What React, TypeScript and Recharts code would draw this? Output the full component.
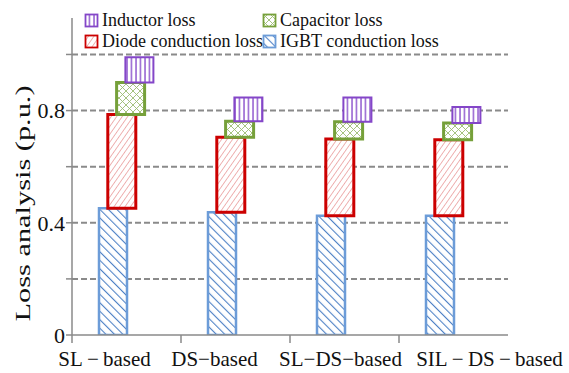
import React from "react";
import {
  Bar,
  BarChart,
  CartesianGrid,
  Legend,
  XAxis,
  YAxis,
} from "recharts";

const categories = [
  "SL\u2009\u2212\u2009based",
  "DS\u2212based",
  "SL\u2212DS\u2212based",
  "SIL\u2009\u2212\u2009DS\u2009\u2212\u2009based",
];
const igbtLoss = [0.452, 0.438, 0.425, 0.425];
const diodeLoss = [0.334, 0.267, 0.274, 0.271];
const capacitorLoss = [0.114, 0.057, 0.061, 0.06];
const inductorLoss = [0.09, 0.085, 0.087, 0.057];
const yTicks = [0, 0.2, 0.4, 0.6, 0.8, 1.0];
const yLabelled = [0, 0.4, 0.8];
const gridValues = [0.2, 0.4, 0.6, 0.8, 1.0];

const FONT = "'Liberation Serif', 'Times New Roman', Times, serif";

// waterfall: each loss sits on top of the previous ones
const data = categories.map((name, i) => {
  const a = igbtLoss[i];
  const b = a + diodeLoss[i];
  const c = b + capacitorLoss[i];
  const d = c + inductorLoss[i];
  return {
    name,
    igbt: [0, a],
    diode: [a, b],
    capacitor: [b, c],
    inductor: [c, d],
  };
});

const series = [
  { key: "igbt", name: "IGBT conduction loss", stroke: "#6c9cd8", width: 2.5, fill: "url(#pIgbt)" },
  { key: "diode", name: "Diode conduction loss", stroke: "#cc0000", width: 3, fill: "url(#pDiode)" },
  { key: "capacitor", name: "Capacitor loss", stroke: "#76a03a", width: 3, fill: "url(#pCap)" },
  { key: "inductor", name: "Inductor loss", stroke: "#8446c8", width: 2, fill: "url(#pInd)" },
];

// legend layout: two rows, two columns
const legendOrder = ["inductor", "capacitor", "diode", "igbt"];

const labelShift = [-22, -21, -4, 36];

const XTick = (props: any) => {
  const { x, y, payload, index } = props;
  const half = payload && payload.offset ? payload.offset : 54.5;
  return (
    <g>
      <line x1={x - half} x2={x - half} y1={y - 8} y2={y} stroke="#8a8a8a" strokeWidth={1.5} />
      <text
        x={x + (labelShift[index] ?? 0)}
        y={y + 23}
        textAnchor="middle"
        fontFamily={FONT}
        fontSize={21}
        fill="#111"
      >
        {payload.value}
      </text>
    </g>
  );
};

const YLabel = (props: any) => {
  const vb = props.viewBox || { x: 0, y: 18, width: 72, height: 317 };
  const cx = 23;
  const cy = vb.y + vb.height * 0.585;
  return (
    <text
      x={cx}
      y={cy}
      transform={`rotate(-90 ${cx} ${cy})`}
      textAnchor="middle"
      dominantBaseline="central"
      fontFamily={FONT}
      fontSize={20}
      fill="#111"
      textLength={236}
      lengthAdjust="spacingAndGlyphs"
    >
      Loss analysis (p.u.)
    </text>
  );
};

const LegendBox = () => (
  <div style={{ position: "relative", width: 420, height: 0, fontFamily: FONT, fontSize: 18, color: "#111" }}>
    {legendOrder.map((k, i) => {
      const s = series.find((e) => e.key === k)!;
      const col = i % 2;
      const row = Math.floor(i / 2);
      return (
        <div
          key={k}
          style={{
            position: "absolute",
            left: col * 178,
            top: row * 21,
            display: "flex",
            alignItems: "center",
            whiteSpace: "nowrap",
            lineHeight: "21px",
          }}
        >
          <svg width={16} height={16} style={{ marginRight: 2 }}>
            <rect x={1.5} y={1.5} width={12} height={12} fill={s.fill} stroke={s.stroke} strokeWidth={1.8} />
          </svg>
          {s.name}
        </div>
      );
    })}
  </div>
);

export default function App() {
  return (
    <div style={{ position: "absolute", left: 0, top: 0, background: "#fff" }}>
      <BarChart
        width={569}
        height={373}
        data={data}
        margin={{ top: 18, right: 61, left: 0, bottom: 0 }}
        barSize={28}
        barGap={-19.2}
      >
        <defs>
          <pattern id="pIgbt" patternUnits="userSpaceOnUse" width={6} height={6} patternTransform="rotate(-45)">
            <rect width={6} height={6} fill="#fff" />
            <line x1={0} y1={0} x2={0} y2={6} stroke="#4f82c6" strokeWidth={2.2} />
          </pattern>
          <pattern id="pDiode" patternUnits="userSpaceOnUse" width={4.5} height={4.5} patternTransform="rotate(35)">
            <rect width={4.5} height={4.5} fill="#fff" />
            <line x1={0} y1={0} x2={0} y2={4.5} stroke="#e06a6a" strokeWidth={1} />
          </pattern>
          <pattern id="pCap" patternUnits="userSpaceOnUse" width={7} height={7}>
            <rect width={7} height={7} fill="#fff" />
            <path d="M0 0 L7 7 M7 0 L0 7" stroke="#9cbc72" strokeWidth={0.9} />
          </pattern>
          <pattern id="pInd" patternUnits="userSpaceOnUse" width={4.5} height={4}>
            <rect width={4.5} height={4} fill="#fff" />
            <line x1={1} y1={0} x2={1} y2={4} stroke="#8a50cc" strokeWidth={1.4} />
          </pattern>
        </defs>
        <CartesianGrid
          vertical={false}
          horizontalValues={gridValues}
          stroke="#8a8a8a"
          strokeWidth={2}
          strokeDasharray="6 3"
        />
        <XAxis
          dataKey="name"
          height={38}
          tickLine={false}
          tickSize={8}
          tickMargin={0}
          stroke="#8a8a8a"
          strokeWidth={1.5}
          tick={<XTick />}
          interval={0}
        />
        <YAxis
          width={72}
          domain={[0, 1.13]}
          ticks={yTicks}
          allowDataOverflow
          stroke="#8a8a8a"
          strokeWidth={1.5}
          tickSize={6}
          tickMargin={1}
          tick={{ fill: "#111", fontFamily: FONT, fontSize: 22 }}
          tickFormatter={(v: number) => (yLabelled.includes(v) ? String(v) : "")}
          label={<YLabel />}
        />
        <Legend
          content={<LegendBox />}
          verticalAlign="top"
          wrapperStyle={{ position: "absolute", top: 10, left: 84, width: 420, height: 0, overflow: "visible" }}
        />
        {series.map((s) => (
          <Bar
            key={s.key}
            dataKey={s.key}
            name={s.name}
            fill={s.fill}
            stroke={s.stroke}
            strokeWidth={s.width}
            isAnimationActive={false}
          />
        ))}
      </BarChart>
    </div>
  );
}
